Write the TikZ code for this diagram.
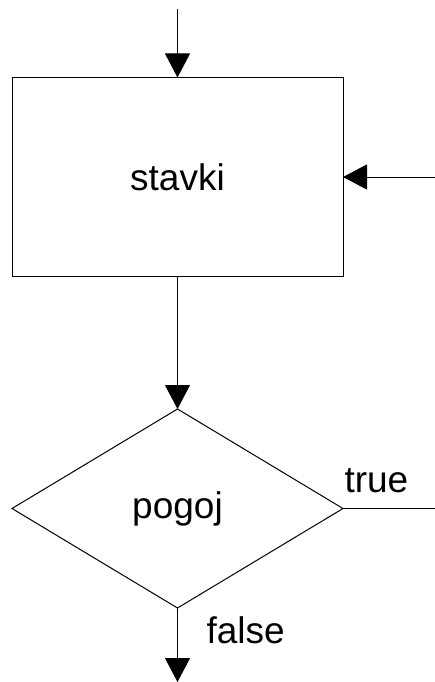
\documentclass[tikz,border=0pt]{standalone}
\usepackage{fontspec}
\setmainfont{Liberation Sans}
\usetikzlibrary{arrows.meta,shapes.geometric}
\begin{document}
\begin{tikzpicture}[x=1pt,y=-1pt,
  line width=1pt,
  every node/.style={font=\fontsize{37}{40}\selectfont},
  conn/.style={draw=black},
  arr/.style={conn,-{Triangle[length=24pt,width=25pt]}},
  stmt/.style={draw,rectangle,minimum width=331pt,minimum height=199pt,inner sep=0pt,outer sep=0pt},
  cond/.style={draw,diamond,minimum width=331pt,minimum height=199pt,inner sep=0pt,outer sep=0pt},
  lbl/.style={inner sep=0pt,anchor=base west}]
\useasboundingbox (0,0) rectangle (435,682);
\node[stmt] (box) at (177.5,177) {stavki};
\node[cond] (dia) at (177.5,508.5) {\raisebox{-5pt}{pogoj}};
\coordinate (topin) at (177.5,9);
\coordinate (rightin) at (435,177);
\coordinate (trueout) at (435,508.5);
\coordinate (falseout) at (177.5,682);
\draw[arr] (topin) -- (box.north);
\draw[arr] (rightin) -- (box.east);
\draw[arr] (box.south) -- (dia.north);
\draw[conn] (dia.east) -- (trueout);
\draw[arr] (dia.south) -- (falseout);
\node[lbl] (truelbl) at (344,492) {true};
\node[lbl] (falselbl) at (206,643) {false};
\end{tikzpicture}
\end{document}
